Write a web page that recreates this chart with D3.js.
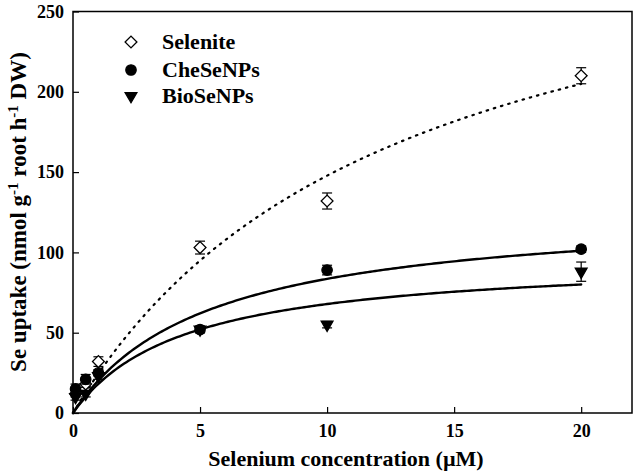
<!DOCTYPE html>
<html><head><meta charset="utf-8">
<script src="https://cdn.jsdelivr.net/npm/d3@7"></script>
<style>body{margin:0;background:#fff}svg{display:block}text{font-family:"Liberation Serif","Times New Roman",serif;font-weight:bold}</style>
</head><body><svg id="c" width="638" height="472"></svg>
<script>
const concentrations = [0.1, 0.5, 1, 5, 10, 20];
const seleniteValues = [12, 18, 32, 103, 132, 210];
const seleniteErrors = [2, 2, 3, 4, 5, 5];
const cheValues = [15, 21, 25, 52, 89, 102];
const cheErrors = [3, 3, 2, 2, 3, 2];
const bioValues = [10, 12, 23, 52, 55, 88];
const bioErrors = [2, 2, 2, 2, 2, 6];
const seriesNames = ["Selenite", "CheSeNPs", "BioSeNPs"];
const fitVmax = [334, 127.8, 97.5];
const fitKm = [12.6, 5.3, 4.37];
const xTicks = [0, 5, 10, 15, 20];
const yTicks = [0, 50, 100, 150, 200, 250];

const svg = d3.select("#c");
const m = {l: 73, r: 632, t: 11.5, b: 413};
const x = d3.scaleLinear().domain([0, 22]).range([m.l, m.r]);
const y = d3.scaleLinear().domain([0, 250]).range([m.b, m.t]);

svg.append("rect").attr("x", m.l).attr("y", m.t).attr("width", m.r - m.l).attr("height", m.b - m.t)
  .attr("fill", "none").attr("stroke", "#000").attr("stroke-width", 1.5);

const xa = svg.append("g").attr("transform", `translate(0,${m.b})`)
  .call(d3.axisBottom(x).tickValues(xTicks).tickSize(-6).tickPadding(11).tickFormat(d3.format("d")));
const ya = svg.append("g").attr("transform", `translate(${m.l},0)`)
  .call(d3.axisLeft(y).tickValues(yTicks).tickSize(-6).tickPadding(9).tickFormat(d3.format("d")));
[xa, ya].forEach(a => {
  a.select(".domain").remove();
  a.selectAll(".tick line").attr("stroke", "#000").attr("stroke-width", 1.2);
  a.selectAll("text").attr("font-size", 18).attr("fill", "#000")
   .style("font-family", "'Liberation Serif',serif").style("font-weight", "bold");
});

const fitX = d3.range(0, 20.0001, 0.1);
const line = d3.line().x(d => x(d[0])).y(d => y(d[1]));
fitVmax.forEach((vm, i) => {
  const pts = fitX.map(s => [s, vm * s / (fitKm[i] + s)]);
  svg.append("path").attr("d", line(pts)).attr("fill", "none").attr("stroke", "#000")
    .attr("stroke-width", i === 0 ? 2.2 : 2.4)
    .attr("stroke-dasharray", i === 0 ? "1.5,6" : null)
    .attr("stroke-linecap", "round");
});

const series = [
  {vals: seleniteValues, errs: seleniteErrors, fill: "#fff", size: 70},
  {vals: cheValues, errs: cheErrors, fill: "#000", size: 85},
  {vals: bioValues, errs: bioErrors, fill: "#000", size: 60}
];
const symType = si => si === 0 ? d3.symbolSquare : (si === 2 ? d3.symbolTriangle : d3.symbolCircle);
const symRot = si => si === 2 ? 180 : (si === 0 ? 45 : 0);

series.forEach((s, si) => {
  const g = svg.append("g");
  concentrations.forEach((c, i) => {
    const cx = x(c), v = s.vals[i], e = s.errs[i];
    g.append("line").attr("x1", cx).attr("x2", cx).attr("y1", y(v - e)).attr("y2", y(v + e)).attr("stroke", "#000").attr("stroke-width", 1.2);
    [v - e, v + e].forEach(t => g.append("line").attr("x1", cx - 5).attr("x2", cx + 5).attr("y1", y(t)).attr("y2", y(t)).attr("stroke", "#000").attr("stroke-width", 1.2));
    g.append("path").attr("d", d3.symbol().type(symType(si)).size(s.size)())
      .attr("transform", `translate(${cx},${y(v)}) rotate(${symRot(si)})`)
      .attr("fill", s.fill).attr("stroke", "#000").attr("stroke-width", 1.3);
  });
});

const leg = svg.append("g");
series.forEach((s, si) => {
  const ly = [42, 70, 96][si];
  leg.append("path").attr("d", d3.symbol().type(symType(si)).size(s.size)())
    .attr("transform", `translate(131,${ly}) rotate(${symRot(si)})`)
    .attr("fill", s.fill).attr("stroke", "#000").attr("stroke-width", 1.3);
  leg.append("text").attr("x", 162).attr("y", ly + 7).attr("font-size", 22).text(seriesNames[si]);
});

svg.append("text").attr("x", 346).attr("y", 466).attr("text-anchor", "middle").attr("font-size", 22)
  .text("Selenium concentration (\u00b5M)");
const yt = svg.append("text").attr("transform", `translate(26,212) rotate(-90)`).attr("text-anchor", "middle").attr("font-size", 23);
yt.append("tspan").text("Se uptake (nmol g");
yt.append("tspan").attr("dy", -8).attr("font-size", 15).text("-1");
yt.append("tspan").attr("dy", 8).text(" root h");
yt.append("tspan").attr("dy", -8).attr("font-size", 15).text("-1");
yt.append("tspan").attr("dy", 8).text(" DW)");
</script></body></html>
